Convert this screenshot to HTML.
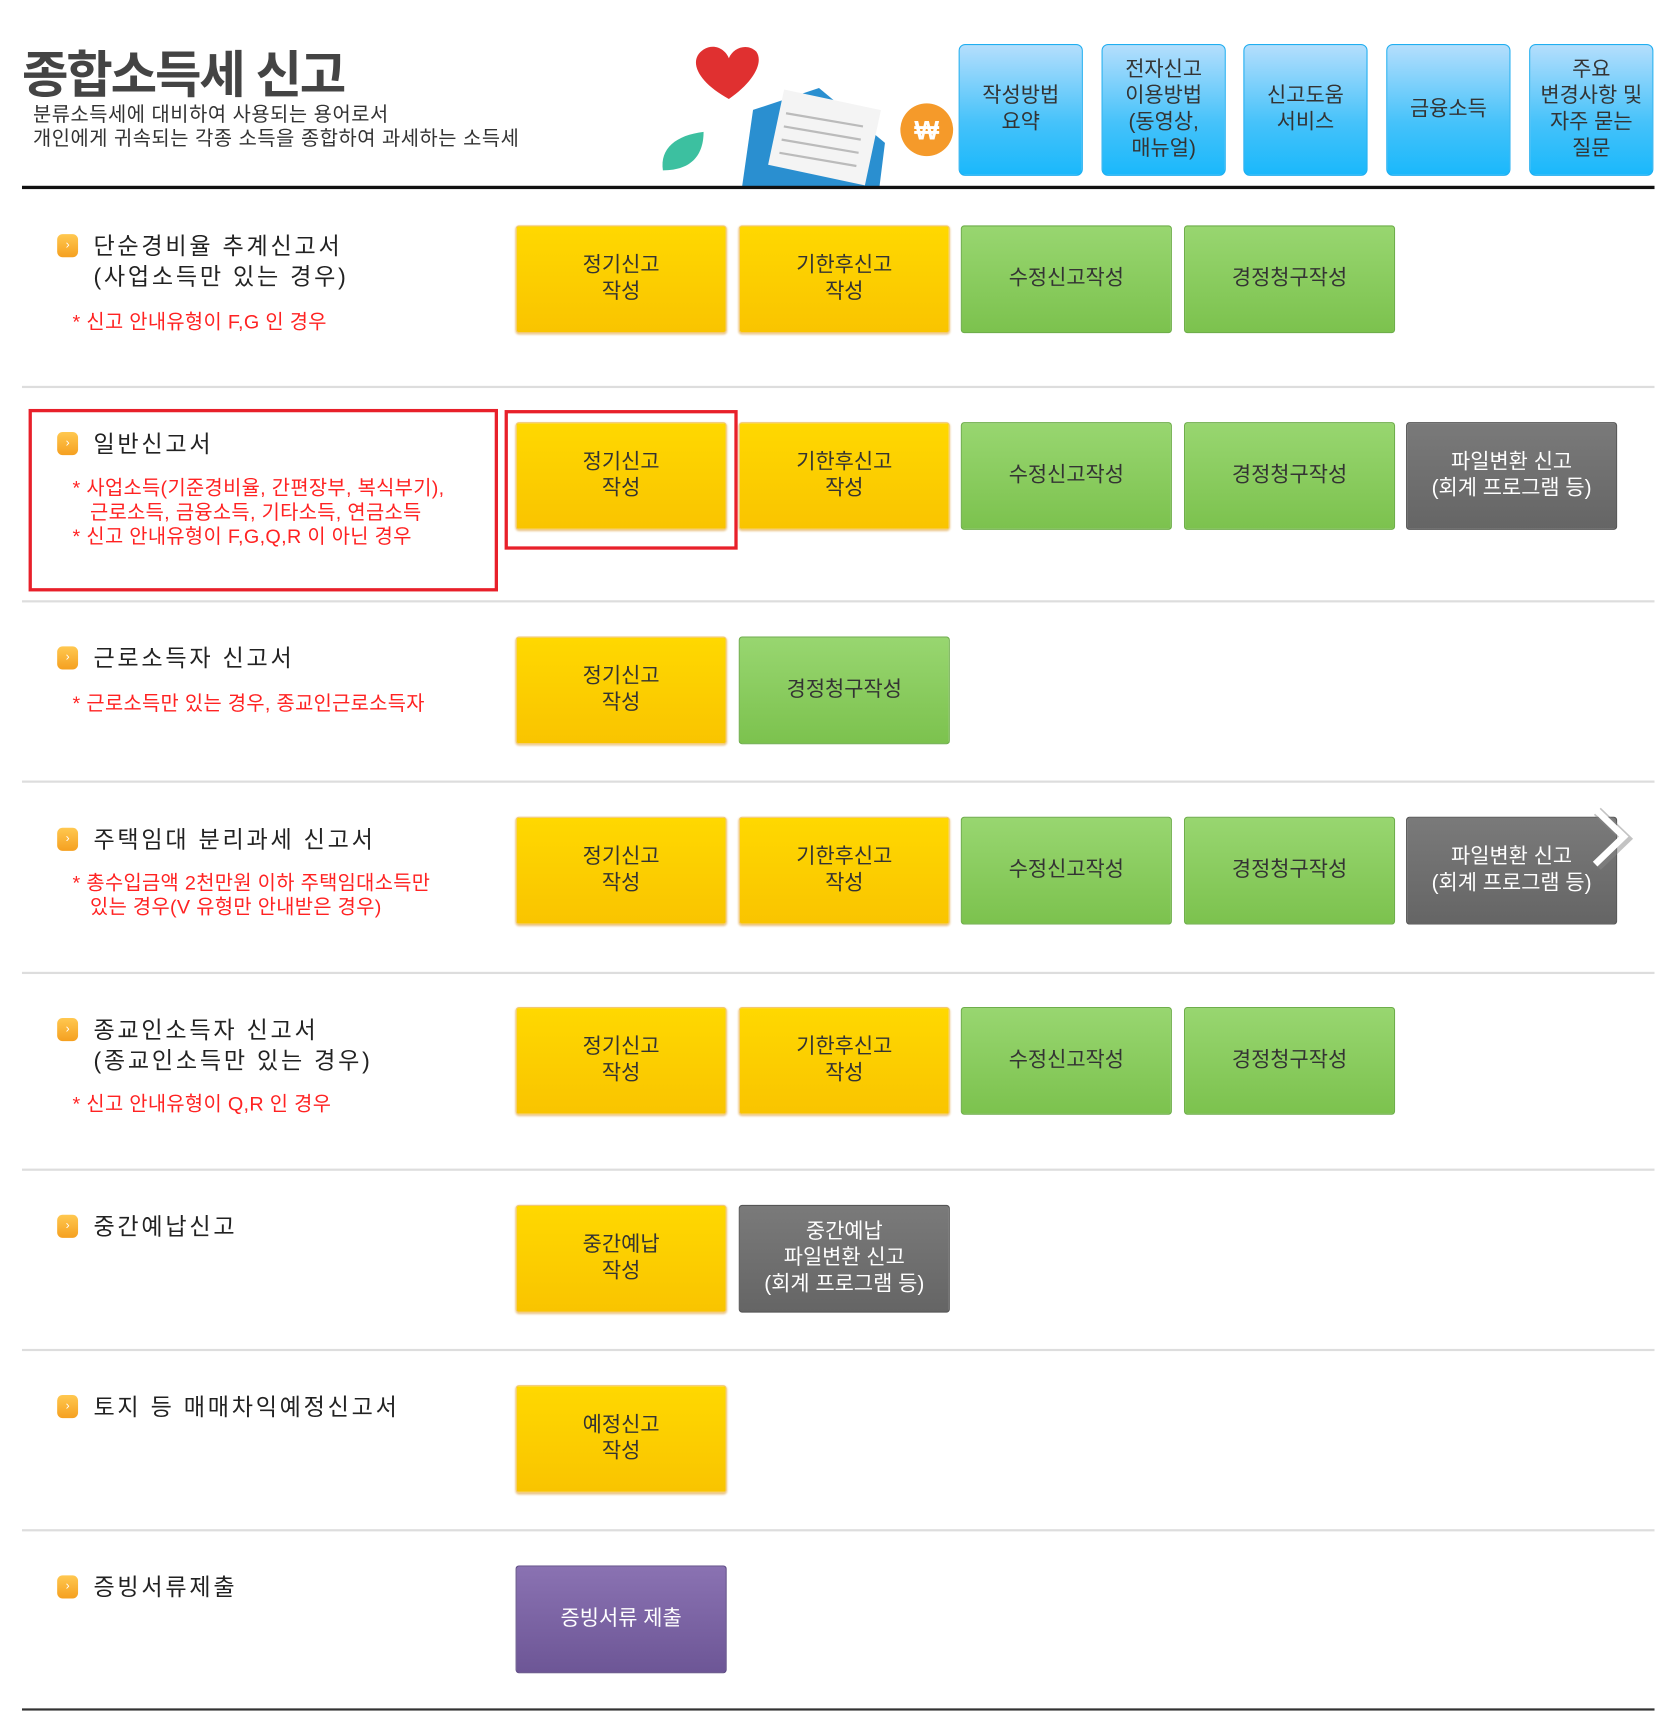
<!DOCTYPE html>
<html><head><meta charset="utf-8"><style>
html,body{margin:0;padding:0;background:#fff;}
body{width:1660px;height:1722px;overflow:hidden;position:relative;font-family:"Liberation Sans","Noto Sans CJK KR","NanumGothic",sans-serif;}
#w{position:absolute;left:0;top:0;width:1510px;height:1567px;transform:scale(1.09934);transform-origin:0 0;}
.a{position:absolute;}
.t{color:#333;white-space:nowrap;}
.btn{position:absolute;width:192px;height:98px;border-radius:3px;display:flex;align-items:center;justify-content:center;text-align:center;font-size:19px;line-height:24px;color:#333;box-sizing:border-box;}
.y{background:linear-gradient(#ffd800,#f9c400);border:1px solid #f2c870;box-shadow:0 1px 2px #e8c080;}
.g{background:linear-gradient(#98d670,#7cc24e);border:1px solid #6eae4a;}
.k{background:linear-gradient(#7a7a7a,#656565);border:1px solid #555;color:#fff;}
.p{background:linear-gradient(#8a72b2,#6d5696);border:1px solid #5d4a84;color:#fff;}
.b{position:absolute;width:113px;height:120px;border-radius:6px;background:linear-gradient(#b4defc,#45c2fa 60%,#1ab8fb);border:1px solid #20aef0;display:flex;align-items:center;justify-content:center;text-align:center;font-size:19px;line-height:24px;color:#333;box-sizing:border-box;}
.sep{position:absolute;left:20px;width:1485px;height:2px;background:#ddd;}
.ic{position:absolute;left:52px;width:19px;height:21px;border-radius:5px;background:linear-gradient(#ffc850,#f5a020);color:#fff;font-size:11px;line-height:21px;text-align:center;}
.h{position:absolute;left:85px;font-size:21px;letter-spacing:2.5px;line-height:28px;color:#222;}
.n{position:absolute;left:66px;font-size:18px;line-height:22px;color:#f22;white-space:nowrap;letter-spacing:0.3px;}
</style></head><body><div id="w">
<div class="a t" style="left:20px;top:32px;font-size:46px;font-weight:bold;color:#444;letter-spacing:-2px;">종합소득세 신고</div>
<div class="a t" style="left:30px;top:93px;font-size:18px;line-height:22px;letter-spacing:0.5px;">분류소득세에 대비하여 사용되는 용어로서<br>개인에게 귀속되는 각종 소득을 종합하여 과세하는 소득세</div>
<svg class="a" style="left:595px;top:35px" width="275" height="137">
<path d="M68 55 C40 40 30 20 45 10 C55 4 65 10 68 18 C72 8 85 4 93 12 C100 22 90 40 68 55Z" fill="#e03030"/>
<path d="M8 120 C5 100 20 88 45 85 C45 105 35 120 8 120Z" fill="#3cc0a0"/>
<path d="M80 135 L90 65 L150 45 L210 95 L205 135Z" fill="#2a8fd0"/>
<rect x="110" y="55" width="90" height="70" fill="#f4f4f4" transform="rotate(12 155 90)"/>
<g stroke="#bbb" stroke-width="2"><line x1="120" y1="68" x2="190" y2="80"/><line x1="118" y1="80" x2="188" y2="92"/><line x1="116" y1="92" x2="186" y2="104"/><line x1="114" y1="104" x2="184" y2="116"/></g>
<circle cx="248" cy="83" r="24" fill="#f59a2a"/>
<text x="248" y="92" font-size="24" fill="#fff" text-anchor="middle" font-weight="bold">₩</text>
</svg>
<div class="b" style="left:872px;top:40px">작성방법<br>요약</div>
<div class="b" style="left:1002px;top:40px">전자신고<br>이용방법<br>(동영상,<br>매뉴얼)</div>
<div class="b" style="left:1131px;top:40px">신고도움<br>서비스</div>
<div class="b" style="left:1261px;top:40px">금융소득</div>
<div class="b" style="left:1391px;top:40px">주요<br>변경사항 및<br>자주 묻는<br>질문</div>
<div class="a" style="left:20px;top:169px;width:1485px;height:3px;background:#111"></div>

<div class="ic" style="top:213px">›</div>
<div class="h" style="top:211px">단순경비율 추계신고서<br>(사업소득만 있는 경우)</div>
<div class="n" style="top:282px">* 신고 안내유형이 F,G 인 경우</div>
<div class="btn y" style="left:469px;top:205px">정기신고<br>작성</div>
<div class="btn y" style="left:672px;top:205px">기한후신고<br>작성</div>
<div class="btn g" style="left:874px;top:205px">수정신고작성</div>
<div class="btn g" style="left:1077px;top:205px">경정청구작성</div>
<div class="sep" style="top:351px"></div>

<div class="ic" style="top:393px">›</div>
<div class="h" style="top:391px">일반신고서</div>
<div class="n" style="top:433px">* 사업소득(기준경비율, 간편장부, 복식부기),<br>&nbsp;&nbsp;&nbsp;근로소득, 금융소득, 기타소득, 연금소득<br>* 신고 안내유형이 F,G,Q,R 이 아닌 경우</div>
<div class="btn y" style="left:469px;top:384px">정기신고<br>작성</div>
<div class="btn y" style="left:672px;top:384px">기한후신고<br>작성</div>
<div class="btn g" style="left:874px;top:384px">수정신고작성</div>
<div class="btn g" style="left:1077px;top:384px">경정청구작성</div>
<div class="btn k" style="left:1279px;top:384px">파일변환 신고<br>(회계 프로그램 등)</div>
<div class="a" style="left:26px;top:372px;width:427px;height:166px;border:3px solid #e8202a;box-sizing:border-box"></div>
<div class="a" style="left:459px;top:373px;width:212px;height:127px;border:3px solid #e8202a;box-sizing:border-box"></div>
<div class="sep" style="top:546px"></div>

<div class="ic" style="top:588px">›</div>
<div class="h" style="top:586px">근로소득자 신고서</div>
<div class="n" style="top:629px">* 근로소득만 있는 경우, 종교인근로소득자</div>
<div class="btn y" style="left:469px;top:579px">정기신고<br>작성</div>
<div class="btn g" style="left:672px;top:579px">경정청구작성</div>
<div class="sep" style="top:710px"></div>

<div class="ic" style="top:753px">›</div>
<div class="h" style="top:751px">주택임대 분리과세 신고서</div>
<div class="n" style="top:792px">* 총수입금액 2천만원 이하 주택임대소득만<br>&nbsp;&nbsp;&nbsp;있는 경우(V 유형만 안내받은 경우)</div>
<div class="btn y" style="left:469px;top:743px">정기신고<br>작성</div>
<div class="btn y" style="left:672px;top:743px">기한후신고<br>작성</div>
<div class="btn g" style="left:874px;top:743px">수정신고작성</div>
<div class="btn g" style="left:1077px;top:743px">경정청구작성</div>
<div class="btn k" style="left:1279px;top:743px">파일변환 신고<br>(회계 프로그램 등)</div>
<svg class="a" style="left:1445px;top:732px" width="45" height="62"><polyline points="8,6 34,31 8,56" fill="none" stroke="#888" stroke-width="9" opacity=".5"/><polyline points="6,4 32,29 6,54" fill="none" stroke="#fff" stroke-width="6"/></svg>
<div class="sep" style="top:884px"></div>

<div class="ic" style="top:926px">›</div>
<div class="h" style="top:924px">종교인소득자 신고서<br>(종교인소득만 있는 경우)</div>
<div class="n" style="top:993px">* 신고 안내유형이 Q,R 인 경우</div>
<div class="btn y" style="left:469px;top:916px">정기신고<br>작성</div>
<div class="btn y" style="left:672px;top:916px">기한후신고<br>작성</div>
<div class="btn g" style="left:874px;top:916px">수정신고작성</div>
<div class="btn g" style="left:1077px;top:916px">경정청구작성</div>
<div class="sep" style="top:1063px"></div>

<div class="ic" style="top:1105px">›</div>
<div class="h" style="top:1103px">중간예납신고</div>
<div class="btn y" style="left:469px;top:1096px">중간예납<br>작성</div>
<div class="btn k" style="left:672px;top:1096px">중간예납<br>파일변환 신고<br>(회계 프로그램 등)</div>
<div class="sep" style="top:1227px"></div>

<div class="ic" style="top:1269px">›</div>
<div class="h" style="top:1267px">토지 등 매매차익예정신고서</div>
<div class="btn y" style="left:469px;top:1260px">예정신고<br>작성</div>
<div class="sep" style="top:1391px"></div>

<div class="ic" style="top:1433px">›</div>
<div class="h" style="top:1431px">증빙서류제출</div>
<div class="btn p" style="left:469px;top:1424px">증빙서류 제출</div>
<div class="a" style="left:20px;top:1554px;width:1485px;height:2px;background:#333"></div>
</div></body></html>
